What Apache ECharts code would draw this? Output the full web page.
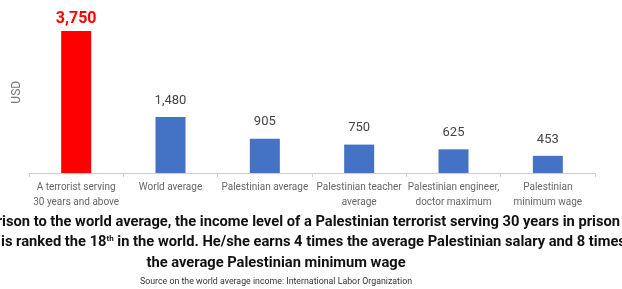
<!DOCTYPE html>
<html>
<head>
<meta charset="utf-8">
<script src="https://cdn.jsdelivr.net/npm/echarts@6/dist/echarts.min.js"></script>
<style>
html,body{margin:0;padding:0;background:#fff;}
#chart{width:622px;height:289px;}
</style>
</head>
<body>
<div id="chart"></div>
<script>
var categories = [
  "A terrorist serving\n30 years and above",
  "World average",
  "Palestinian average",
  "Palestinian teacher\naverage",
  "Palestinian engineer,\ndoctor maximum",
  "Palestinian\nminimum wage"
];
var values = [3750, 1480, 905, 750, 625, 453];
var highlightIndex = 0;
var axisName = "USD";
var captionLine1 = "In comparison to the world average, the income level of a Palestinian terrorist serving 30 years in prison";
var captionLine2a = "is ranked the 18";
var captionLine2sup = "th";
var captionLine2b = " in the world. He/she earns 4 times the average Palestinian salary and 8 times";
var captionLine3 = "the average Palestinian minimum wage";
var sourceText = "Source on the world average income: International Labor Organization";

var FONT = "Roboto, 'Noto Sans', sans-serif";
var chart = echarts.init(document.getElementById('chart'), null, {renderer: 'canvas'});
var option = {
  animation: false,
  textStyle: {fontFamily: FONT},
  grid: {left: 29, right: 27, top: 21.5, bottom: 116, containLabel: false},
  xAxis: {
    type: 'category',
    data: categories,
    axisLine: {show: true, lineStyle: {color: '#cfcfcf', width: 1}},
    axisTick: {show: true, length: 4, lineStyle: {color: '#cfcfcf'}},
    axisLabel: {interval: 0, fontSize: 10, color: '#666', lineHeight: 15, margin: 7, fontFamily: FONT}
  },
  yAxis: {
    type: 'value',
    min: 0,
    max: 4000,
    name: axisName,
    nameLocation: 'middle',
    nameRotate: 90,
    nameGap: 6,
    nameTextStyle: {fontSize: 12, color: '#777', fontFamily: FONT, padding: [0, 0, 0, 10]},
    axisLine: {show: false},
    axisTick: {show: false},
    axisLabel: {show: false},
    splitLine: {show: false}
  },
  series: [{
    type: 'bar',
    barWidth: 30,
    data: values.map(function (v, i) {
      var hi = i === highlightIndex;
      return {
        value: v,
        itemStyle: {color: hi ? '#ff0000' : '#4472c4'},
        label: hi ? {fontSize: 16, fontWeight: 'bold', color: '#ff0000', distance: 4}
                  : {fontSize: 13, color: '#444', distance: 10}
      };
    }),
    label: {
      show: true,
      position: 'top',
      fontFamily: FONT,
      formatter: function (p) { return p.value.toLocaleString('en-US'); }
    }
  }],
  graphic: [
    {type: 'text', x: 620, y: 222, style: {text: captionLine1, font: 'bold 14.7px ' + FONT, fill: '#111', align: 'right', verticalAlign: 'middle'}},
    {type: 'text', x: 1, y: 242, style: {
      text: '{a|' + captionLine2a + '}{s|' + captionLine2sup + '}{a|' + captionLine2b + '}',
      align: 'left', verticalAlign: 'middle',
      rich: {
        a: {font: 'bold 14.7px ' + FONT, fill: '#111'},
        s: {font: 'bold 8px ' + FONT, fill: '#111', verticalAlign: 'top', padding: [0, 0, 7, 0]}
      }
    }},
    {type: 'text', x: 276, y: 263, style: {text: captionLine3, font: 'bold 14.7px ' + FONT, fill: '#111', align: 'center', verticalAlign: 'middle'}},
    {type: 'text', x: 276, y: 282, style: {text: sourceText, font: '8.8px ' + FONT, fill: '#333', align: 'center', verticalAlign: 'middle'}}
  ]
};
chart.setOption(option);
</script>
</body>
</html>
